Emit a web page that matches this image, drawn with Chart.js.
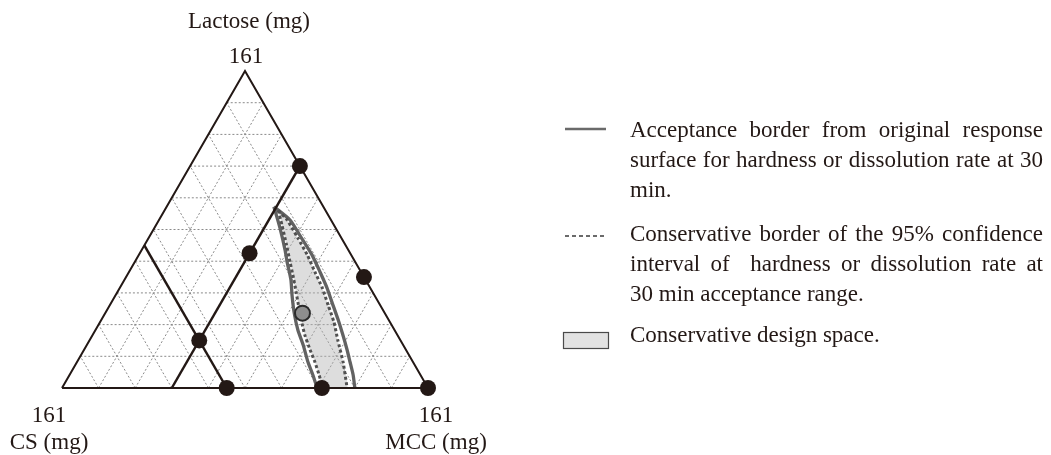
<!DOCTYPE html>
<html>
<head>
<meta charset="utf-8">
<script src="https://cdn.jsdelivr.net/npm/chart.js@4.4.1/dist/chart.umd.min.js"></script>
<style>
body { margin: 0; background: #fff; }
#wrap { position: relative; width: 1051px; height: 455px; overflow: hidden;
        font-family: "Liberation Serif", "Times New Roman", serif; color: #231815; }
#chart { position: absolute; left: 0; top: 0; }
#marks { position: absolute; left: 0; top: 0; }
.lbl { position: absolute; font-size: 23px; line-height: 23px; white-space: nowrap; transform: translateX(-50%); }
.leg { position: absolute; left: 630px; width: 413px; font-size: 23px; line-height: 23px; }
.just { text-align: justify; text-align-last: justify; }
</style>
</head>
<body>
<div id="wrap">
    <canvas id="chart" width="1051" height="455"></canvas>

    <div class="lbl" style="left:249px; top:9px;">Lactose (mg)</div>
    <div class="lbl" style="left:246px; top:44px;">161</div>
    <div class="lbl" style="left:49px; top:403px;">161</div>
    <div class="lbl" style="left:49px; top:430px;">CS (mg)</div>
    <div class="lbl" style="left:436px; top:403px;">161</div>
    <div class="lbl" style="left:436px; top:430px;">MCC (mg)</div>

    <svg id="marks" width="1051" height="455">
        <line x1="565" y1="129" x2="606" y2="129" stroke="#6a6a6a" stroke-width="2.5"/>
        <line x1="565" y1="236" x2="606" y2="236" stroke="#6a6a6a" stroke-width="2" stroke-dasharray="4 3"/>
        <rect x="563.5" y="332.5" width="45" height="16" fill="#e2e2e2" stroke="#4a4a4a" stroke-width="1.2"/>
    </svg>

    <div class="leg just" style="top:118px;">Acceptance border from original response</div>
    <div class="leg just" style="top:148px;">surface for hardness or dissolution rate at 30</div>
    <div class="leg" style="top:178px;">min.</div>
    <div class="leg just" style="top:222px;">Conservative border of the 95% confidence</div>
    <div class="leg just" style="top:252px;">interval of &nbsp;hardness or dissolution rate at</div>
    <div class="leg" style="top:282px;">30 min acceptance range.</div>
    <div class="leg" style="top:323px;">Conservative design space.</div>
</div>

<script>
'use strict';

// all compositions in % of 161 mg (lactose + MCC + CS = 100)
const SQ = Math.sqrt(3) / 2;
const gridTicks = [10, 20, 30, 40, 50, 60, 70, 80, 90];

// experimental runs
const runLactose = [0, 0, 0, 70, 35, 42.5, 15];
const runMcc     = [100, 45, 71, 30, 65, 30, 30];

// centre / optimum point
const optLactose = [23.6];
const optMcc     = [53.9];

// constraint lines
const limitMcc = 30;
const limitCs  = 55;

// acceptance border from original response surface (solid)
const solidLeftLactose  = [57.2, 50.5, 43.5, 39.8, 34.1, 29.3, 24.0, 18.3, 13.6, 8.2, 4.1, 0];
const solidLeftMcc      = [29.3, 34.3, 39.2, 41.6, 45.5, 48.2, 51.4, 55.3, 59.1, 63.1, 66.5, 69.7];
const solidRightLactose = [57.2, 53.0, 47.3, 42.0, 36.6, 31.6, 27.1, 21.5, 16.7, 12.0, 8.2, 4.1, 0];
const solidRightMcc     = [29.3, 35.8, 41.8, 47.3, 52.2, 56.6, 60.2, 64.7, 68.4, 71.9, 74.6, 77.5, 80.0];

// conservative border, 95% confidence (dashed)
const dashLeftLactose  = [56.0, 51.4, 45.1, 39.8, 34.7, 30.3, 26.2, 21.5, 16.7, 12.0, 8.2, 4.1, 0];
const dashLeftMcc      = [31.1, 34.4, 38.8, 42.4, 45.9, 48.8, 51.5, 54.6, 58.0, 61.8, 65.0, 68.2, 71.3];
const dashRightLactose = [56.0, 53.0, 47.3, 42.0, 36.6, 31.6, 26.2, 20.8, 15.1, 8.2, 0];
const dashRightMcc     = [31.1, 35.0, 40.8, 46.0, 50.8, 55.3, 59.6, 63.9, 67.8, 72.7, 77.9];

const INK = '#231815';

function pt(lactose, mcc) {
    return { x: mcc + lactose / 2, y: lactose * SQ };
}

function toPoints(lac, mcc) {
    return lac.map(function(l, i) { return pt(l, mcc[i]); });
}

function lineSet(points, color, width, dash, order, tension) {
    return {
        data: points,
        showLine: true,
        borderColor: color,
        borderWidth: width,
        borderDash: dash || [],
        pointRadius: 0,
        fill: false,
        clip: false,
        order: order,
        tension: tension || 0,
    };
}

let datasets = [];

// dotted grid
for (let t of gridTicks) {
    let u = 100 - t;
    datasets.push(lineSet([pt(t, 0), pt(t, u)], '#8a8a8a', 1, [2, 2], 20));      // lactose = t
    datasets.push(lineSet([pt(0, t), pt(u, t)], '#8a8a8a', 1, [2, 2], 20));      // MCC = t
    datasets.push(lineSet([pt(0, u), pt(u, 0)], '#8a8a8a', 1, [2, 2], 20));      // CS = t
}

// design space fill
let dl = toPoints(dashLeftLactose, dashLeftMcc);
let dr = toPoints(dashRightLactose, dashRightMcc);
datasets.push({
    data: dl.concat(dr.slice().reverse()),
    showLine: true,
    borderWidth: 0,
    borderColor: 'rgba(0,0,0,0)',
    backgroundColor: 'rgba(180,180,180,0.45)',
    fill: 'shape',
    pointRadius: 0,
    tension: 0.2,
    order: 15,
});

// borders
datasets.push(lineSet(toPoints(solidLeftLactose, solidLeftMcc), '#626262', 3.3, [], 8, 0.2));
datasets.push(lineSet(toPoints(solidRightLactose, solidRightMcc), '#626262', 3.3, [], 8, 0.2));
datasets.push(lineSet(dl, '#505050', 3, [3, 2.5], 7, 0.2));
datasets.push(lineSet(dr, '#505050', 3, [3, 2.5], 7, 0.2));

// triangle frame
datasets.push(lineSet([pt(0, 0), pt(0, 100), pt(100, 0), pt(0, 0)], INK, 2, [], 5));

// constraint lines
datasets.push(lineSet([pt(0, limitMcc), pt(100 - limitMcc, limitMcc)], INK, 2.5, [], 4));
datasets.push(lineSet([pt(100 - limitCs, 0), pt(0, 100 - limitCs)], INK, 2.5, [], 4));

// runs
datasets.push({
    data: toPoints(runLactose, runMcc),
    pointRadius: 8,
    pointBackgroundColor: INK,
    pointBorderWidth: 0,
    clip: false,
    order: 1,
});
datasets.push({
    data: toPoints(optLactose, optMcc),
    pointRadius: 7.5,
    pointBackgroundColor: '#8e8e8e',
    pointBorderColor: '#2a2a2a',
    pointBorderWidth: 2,
    clip: false,
    order: 0,
});

new Chart(document.getElementById('chart'), {
    type: 'scatter',
    data: { datasets: datasets },
    options: {
        responsive: false,
        animation: false,
        events: [],
        layout: { padding: { left: 62, top: 71, right: 623, bottom: 67 } },
        scales: {
            x: { type: 'linear', min: 0, max: 100, display: false },
            y: { type: 'linear', min: 0, max: 100 * SQ, display: false },
        },
        plugins: {
            legend: { display: false },
            tooltip: { enabled: false },
        },
    },
});
</script>
</body>
</html>
